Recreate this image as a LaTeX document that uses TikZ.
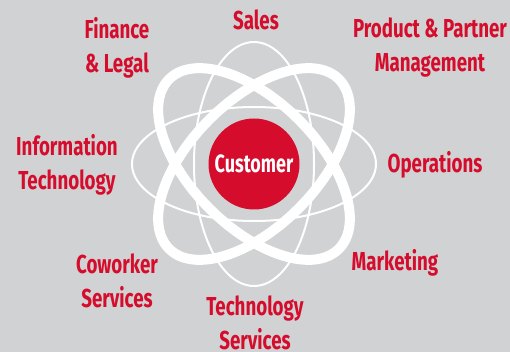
\documentclass[tikz,border=0pt]{standalone}
\usepackage{fontspec}
\setmainfont{Fira Sans}[FakeStretch=0.72,UprightFont=* Bold,BoldFont=* Bold]
\definecolor{bg}{HTML}{D1D2D4}
\definecolor{ikred}{HTML}{D50C2C}
\begin{document}
\begin{tikzpicture}[x=1pt,y=-1pt,
  lbl/.style={text=ikred,font=\fontsize{26}{34}\selectfont,align=center,inner sep=0pt},
  thin/.style={draw=white,line width=2pt},
  thick/.style={draw=white,line width=10pt}]
\fill[bg] (0,0) rectangle (510,352);
\useasboundingbox (0,0) rectangle (510,352);
\coordinate (c) at (254,164);
\draw[thin] (c) ellipse [x radius=60, y radius=122];
\draw[thin] (c) ellipse [x radius=122, y radius=57];
\draw[thick,rotate around={45:(c)}] (c) ellipse [x radius=120, y radius=63];
\draw[thick,rotate around={-45:(c)}] (c) ellipse [x radius=120, y radius=63];
\node[circle,fill=ikred,minimum size=91pt,inner sep=0pt,text=white,font=\fontsize{25}{28}\selectfont] (cust) at (c) {Customer};
\node[lbl] (sales) at (256,20) {Sales};
\node[lbl] (fin) at (117,48) {Finance\\\& Legal};
\node[lbl] (prod) at (430,48) {Product \& Partner\\Management};
\node[lbl] (it) at (67,165) {Information\\Technology};
\node[lbl] (ops) at (435,165) {Operations};
\node[lbl] (mkt) at (395,263) {Marketing};
\node[lbl] (cow) at (117,281) {Coworker\\Services};
\node[lbl] (tech) at (255,323) {Technology\\Services};
\end{tikzpicture}
\end{document}
